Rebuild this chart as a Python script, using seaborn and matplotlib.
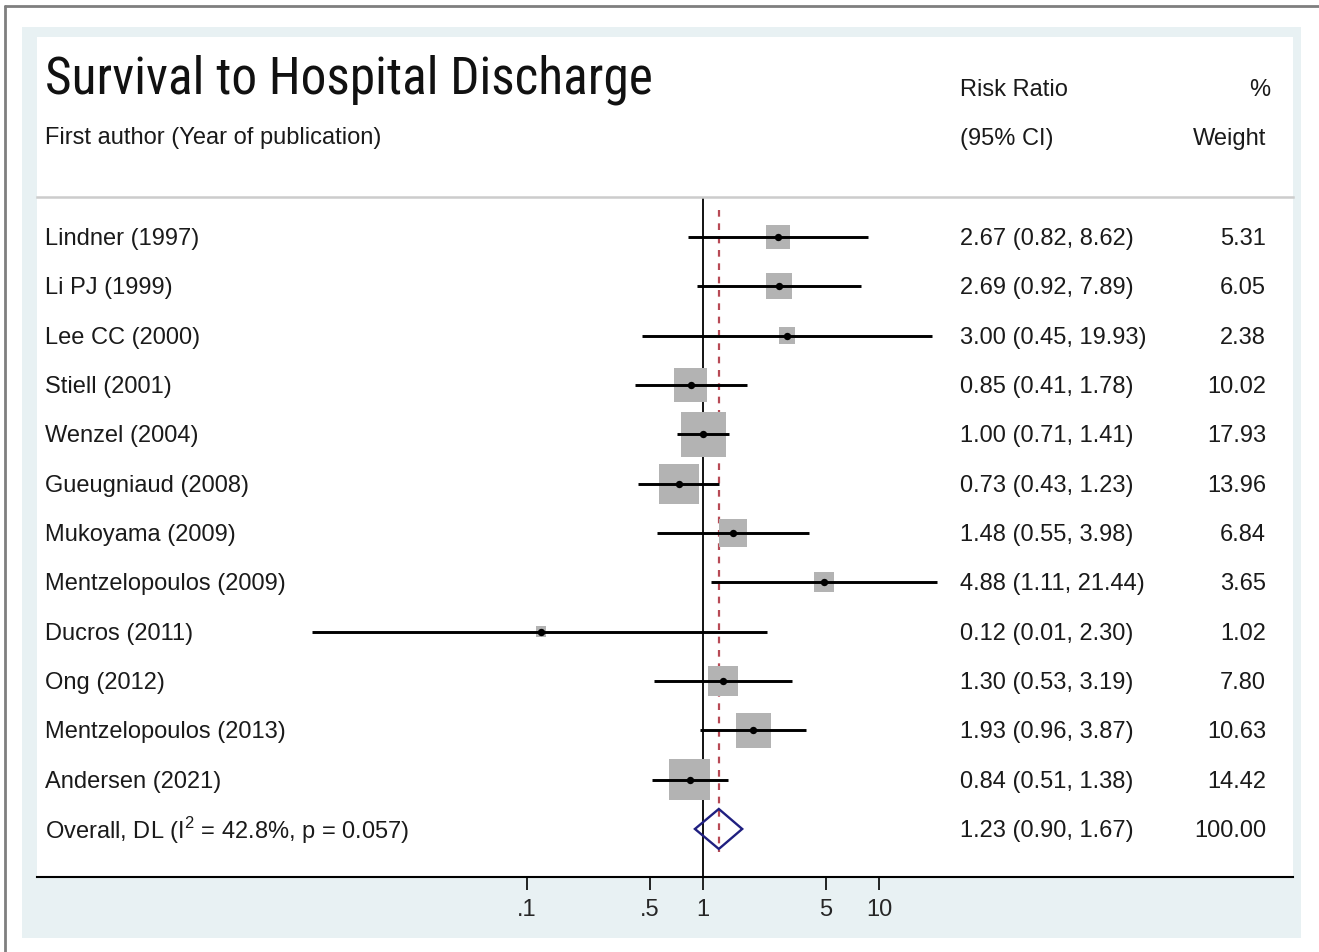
"""
Forest plot: Survival to Hospital Discharge
"""

import numpy as np
import pandas as pd
import matplotlib
matplotlib.use("Agg")
import matplotlib.pyplot as plt
import matplotlib.transforms as mtransforms
from matplotlib.patches import Rectangle, Polygon
from matplotlib.lines import Line2D
import seaborn as sns

# ---- data ----
studies = ["Lindner (1997)", "Li PJ (1999)", "Lee CC (2000)", "Stiell (2001)",
           "Wenzel (2004)", "Gueugniaud (2008)", "Mukoyama (2009)",
           "Mentzelopoulos (2009)", "Ducros (2011)", "Ong (2012)",
           "Mentzelopoulos (2013)", "Andersen (2021)"]
rr = [2.67, 2.69, 3.00, 0.85, 1.00, 0.73, 1.48, 4.88, 0.12, 1.30, 1.93, 0.84]
ci_low = [0.82, 0.92, 0.45, 0.41, 0.71, 0.43, 0.55, 1.11, 0.006, 0.53, 0.96, 0.51]
ci_high = [8.62, 7.89, 19.93, 1.78, 1.41, 1.23, 3.98, 21.44, 2.30, 3.19, 3.87, 1.38]
weight = [5.31, 6.05, 2.38, 10.02, 17.93, 13.96, 6.84, 3.65, 1.02, 7.80, 10.63, 14.42]

overall_label = "Overall, DL (I$^{2}$ = 42.8%, p = 0.057)"
overall_rr = 1.23
overall_low = 0.90
overall_high = 1.67
overall_weight = 100.00

xticks = [0.1, 0.5, 1, 5, 10]
xtick_labels = [".1", ".5", "1", "5", "10"]

df = pd.DataFrame({"study": studies, "rr": rr, "lo": ci_low, "hi": ci_high,
                   "weight": weight})
df["row"] = np.arange(1, len(df) + 1)
overall_row = len(df) + 1

# ---- figure geometry (pixels) ----
W, H = 1319, 952
def fx(px):
    return px / W
def fy(py):
    return 1 - py / H

sns.set_style("white")
plt.rcParams["font.family"] = ["Liberation Sans", "DejaVu Sans"]
plt.rcParams["mathtext.fontset"] = "custom"
plt.rcParams["mathtext.rm"] = "Liberation Sans"

fig = plt.figure(figsize=(W / 100, H / 100), dpi=100)
fig.patch.set_facecolor("white")

# outer frame + panels
fig.add_artist(Line2D([fx(5), fx(5)], [fy(6), 0], color="#7f7f7f", lw=2))
fig.add_artist(Line2D([fx(5), 1], [fy(6), fy(6)], color="#7f7f7f", lw=2))
fig.add_artist(Rectangle((fx(22), fy(938)), fx(1301) - fx(22), fy(27) - fy(938),
                         facecolor="#e8f1f3", edgecolor="none", zorder=-2))
fig.add_artist(Rectangle((fx(37), fy(877)), fx(1293) - fx(37), fy(37) - fy(877),
                         facecolor="white", edgecolor="none", zorder=-1))

# main axes: white area below the header
ax_left, ax_right, ax_top, ax_bot = 37, 1293, 197, 877
ax = fig.add_axes([fx(ax_left), fy(ax_bot), fx(ax_right) - fx(ax_left),
                   fy(ax_top) - fy(ax_bot)])
ax.set_facecolor("none")

# log scale: 1 at x=703px, one decade = 176px
px_one, px_dec = 703, 176
ax.set_xscale("log")
ax.set_xlim(10 ** ((ax_left - px_one) / px_dec), 10 ** ((ax_right - px_one) / px_dec))
row_px0, row_step = 237, 49.33
ax.set_ylim(1 + (ax_bot - row_px0) / row_step, 1 + (ax_top - row_px0) / row_step)

# reference lines
ax.axvline(1, color="black", lw=1.3, zorder=1)
ax.plot([overall_rr, overall_rr], [0.45, 13.47], color="#b84a55", lw=1.6,
        dashes=(3, 3), zorder=2)

# weight squares (area proportional to weight)
max_side_pt = 45 * 0.72
sns.scatterplot(data=df, x="rr", y="row", size="weight",
                sizes=(0, max_side_pt ** 2), size_norm=(0, max(weight)),
                marker="s", color="#b3b3b3", linewidth=0, legend=False,
                ax=ax, zorder=3)

# confidence intervals
ax.hlines(df["row"], df["lo"], df["hi"], color="black", lw=2.1, zorder=4)

# point estimates
sns.scatterplot(data=df, x="rr", y="row", color="black", s=28, linewidth=0,
                legend=False, ax=ax, zorder=5)

# overall diamond
h = 20 / row_step
ax.add_patch(Polygon([(overall_low, overall_row), (overall_rr, overall_row - h),
                      (overall_high, overall_row), (overall_rr, overall_row + h)],
                     closed=True, facecolor="none", edgecolor="#1f1f80", lw=1.7,
                     zorder=6))

# axes styling
for side in ["left", "right"]:
    ax.spines[side].set_visible(False)
ax.spines["top"].set_color("#cccccc")
ax.spines["top"].set_linewidth(1.8)
ax.spines["bottom"].set_color("black")
ax.spines["bottom"].set_linewidth(1.5)
ax.set_xticks(xticks)
ax.set_xticklabels(xtick_labels)
ax.xaxis.set_minor_locator(matplotlib.ticker.NullLocator())
ax.tick_params(axis="x", direction="out", length=9.5, width=1.2, color="black",
               labelsize=17, pad=6, bottom=True)
ax.set_yticks([])
ax.set_xlabel("")
ax.set_ylabel("")

# row texts
trans = mtransforms.blended_transform_factory(ax.transAxes, ax.transData)
def ax_x(px):
    return (px - ax_left) / (ax_right - ax_left)

fs = 17
dy = 2 / row_step  # text sits slightly low in the reference
for _, r in df.iterrows():
    y = r["row"] + dy
    ax.text(ax_x(45), y, r["study"], transform=trans, fontsize=fs,
            va="center", ha="left", color="#1a1a1a")
    ax.text(ax_x(960), y, f"{r['rr']:.2f} ({r['lo']:.2f}, {r['hi']:.2f})",
            transform=trans, fontsize=fs, va="center", ha="left", color="#1a1a1a")
    ax.text(ax_x(1266), y, f"{r['weight']:.2f}", transform=trans,
            fontsize=fs, va="center", ha="right", color="#1a1a1a")

y = overall_row + dy
ax.text(ax_x(45), y, overall_label, transform=trans, fontsize=fs,
        va="center", ha="left", color="#1a1a1a")
ax.text(ax_x(960), y,
        f"{overall_rr:.2f} ({overall_low:.2f}, {overall_high:.2f})",
        transform=trans, fontsize=fs, va="center", ha="left", color="#1a1a1a")
ax.text(ax_x(1266), y, f"{overall_weight:.2f}", transform=trans,
        fontsize=fs, va="center", ha="right", color="#1a1a1a")

# header
fig.text(fx(45), fy(80), "Survival to Hospital Discharge", fontsize=37,
         va="center", ha="left", color="#111111",
         family=["Liberation Sans Narrow", "Roboto Condensed", "DejaVu Sans"])
fig.text(fx(45), fy(138), "First author (Year of publication)", fontsize=fs,
         va="center", ha="left", color="#1a1a1a")
fig.text(fx(960), fy(90), "Risk Ratio", fontsize=fs, va="center", ha="left",
         color="#1a1a1a")
fig.text(fx(960), fy(139), "(95% CI)", fontsize=fs, va="center", ha="left",
         color="#1a1a1a")
fig.text(fx(1270), fy(90), "%", fontsize=fs, va="center", ha="right",
         color="#1a1a1a")
fig.text(fx(1266), fy(139), "Weight", fontsize=fs, va="center", ha="right",
         color="#1a1a1a")

fig.savefig("out.png", dpi=100, facecolor="white")
plt.close(fig)
